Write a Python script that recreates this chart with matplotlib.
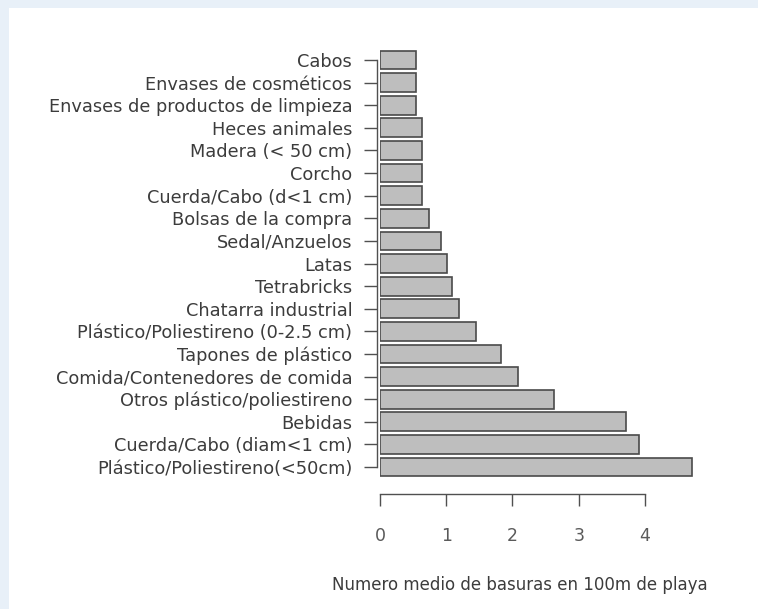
import matplotlib
matplotlib.use('Agg')
import matplotlib.pyplot as plt
from matplotlib.patches import Rectangle

# categories, top to bottom as shown
categories = [
    'Cabos',
    'Envases de cosméticos',
    'Envases de productos de limpieza',
    'Heces animales',
    'Madera (< 50 cm)',
    'Corcho',
    'Cuerda/Cabo (d<1 cm)',
    'Bolsas de la compra',
    'Sedal/Anzuelos',
    'Latas',
    'Tetrabricks',
    'Chatarra industrial',
    'Plástico/Poliestireno (0-2.5 cm)',
    'Tapones de plástico',
    'Comida/Contenedores de comida',
    'Otros plástico/poliestireno',
    'Bebidas',
    'Cuerda/Cabo (diam<1 cm)',
    'Plástico/Poliestireno(<50cm)',
]
values = [0.55, 0.55, 0.55, 0.64, 0.64, 0.64, 0.64, 0.74, 0.92, 1.01,
          1.09, 1.19, 1.45, 1.82, 2.09, 2.63, 3.71, 3.91, 4.71]
xticks = [0, 1, 2, 3, 4]
xlabel = 'Numero medio de basuras en 100m de playa'

plt.rcParams['font.family'] = ['DejaVu Sans']

fig = plt.figure(figsize=(7.58, 6.09), dpi=100)
fig.patch.set_facecolor('#e8f0f8')
# white page area
fig.patches.append(Rectangle((9 / 758, 0), 1, 1 - 8 / 609,
                             transform=fig.transFigure, facecolor='white',
                             edgecolor='none', zorder=-10))

ax = fig.add_axes([380 / 758, 0.2108, 324.6 / 758, 0.713])
ax.patch.set_alpha(0)

n = len(categories)
ypos = list(range(n - 1, -1, -1))
ax.barh(ypos, values, height=0.83, color='#bebebe', edgecolor='#4a4a4a', lw=1.2)

ax.set_xlim(0, 4.9)
ax.set_ylim(-0.6, n - 0.4)

for s in ['top', 'right']:
    ax.spines[s].set_visible(False)
ax.spines['left'].set_position(('outward', 2))
ax.spines['left'].set_bounds(0, n - 1)
ax.spines['bottom'].set_position(('outward', 9.3))
ax.spines['bottom'].set_bounds(0, 4)
for s in ['left', 'bottom']:
    ax.spines[s].set_color('#505050')
    ax.spines[s].set_linewidth(1.0)

ax.set_yticks(ypos)
ax.set_yticklabels(categories, fontsize=12.8, color='#3c3c3c')
ax.set_xticks(xticks)
ax.set_xticklabels([str(t) for t in xticks], fontsize=12.5, color='#5a5a5a')
ax.tick_params(axis='y', length=9.4, width=1.0, color='#505050', pad=8.6)
ax.tick_params(axis='x', length=8.6, width=1.0, color='#505050', pad=15.5)
ax.set_xlabel(xlabel, fontsize=12, color='#3c3c3c')
ax.xaxis.set_label_coords(0.431, -0.220)

fig.savefig('out.png', dpi=100, facecolor=fig.get_facecolor())
